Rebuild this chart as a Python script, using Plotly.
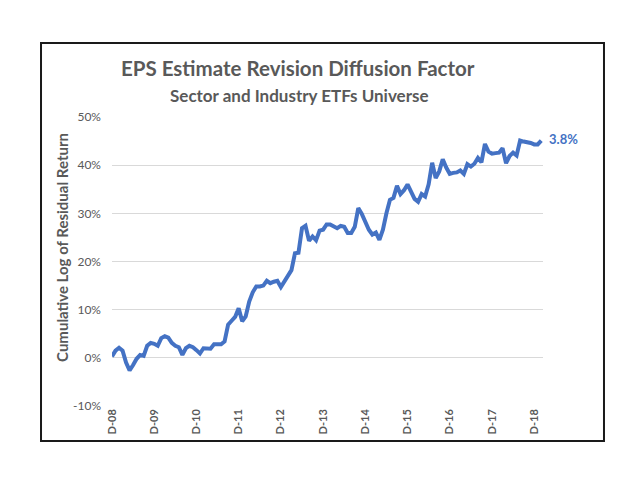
import plotly.graph_objects as go

# Monthly cumulative log residual return (%), Dec-2008 .. Feb-2019
cum_return = [
    0.3, 1.5, 2.1, 1.5, -1.0, -2.6, -1.5, -0.2, 0.6, 0.4, 2.5, 3.1,
    2.9, 2.5, 4.1, 4.5, 4.2, 3.1, 2.5, 2.2, 0.6, 2.0, 2.5, 2.2,
    1.6, 0.9, 2.0, 1.9, 1.9, 2.8, 2.9, 2.8, 3.4, 6.9, 7.7, 8.5,
    10.3, 7.6, 8.6, 11.7, 13.6, 14.8, 14.8, 15.0, 16.0, 15.5, 15.8, 16.0,
    14.7, 15.8, 16.8, 18.2, 21.7, 21.8, 26.9, 27.4, 24.3, 25.2, 24.4, 26.4,
    26.6, 27.7, 27.7, 27.4, 26.9, 27.4, 27.2, 25.9, 25.9, 27.2, 31.1, 29.9,
    28.0, 26.6, 25.6, 26.0, 24.5, 26.6, 30.0, 32.8, 33.2, 35.7, 34.0, 34.8,
    36.0, 34.5, 33.0, 32.4, 34.0, 33.5, 36.0, 40.5, 37.3, 38.7, 41.2, 39.5,
    38.2, 38.4, 38.5, 38.9, 38.2, 40.2, 39.7, 40.3, 41.5, 40.6, 44.4, 42.8,
    42.4, 42.5, 42.6, 43.5, 40.4, 41.9, 42.6, 42.0, 45.1, 44.9, 44.8, 44.6,
    44.3, 44.3, 45.1,
]
month_index = list(range(len(cum_return)))

tick_positions = [0, 12, 24, 36, 48, 60, 72, 84, 96, 108, 120]
tick_labels = ["D-08", "D-09", "D-10", "D-11", "D-12", "D-13",
               "D-14", "D-15", "D-16", "D-17", "D-18"]

y_ticks = [-10, 0, 10, 20, 30, 40, 50]
y_tick_labels = ["-10%", "0%", "10%", "20%", "30%", "40%", "50%"]

end_label = "3.8%"
title_text = "EPS Estimate Revision Diffusion Factor"
subtitle_text = "Sector and Industry ETFs Universe"
y_title = "Cumulative Log of Residual Return"

FONT = "Lato"
GRAY = "#595959"
BLUE = "#4472C4"

fig = go.Figure()
fig.add_trace(go.Scatter(
    x=month_index, y=cum_return, mode="lines",
    line=dict(color=BLUE, width=4, shape="linear"),
    showlegend=False, hoverinfo="skip",
))

fig.update_layout(
    width=640, height=495,
    margin=dict(l=112, r=97, t=117, b=89),
    paper_bgcolor="white", plot_bgcolor="white",
    font=dict(family=FONT, color=GRAY),
    xaxis=dict(
        range=[0, 122.5], tickmode="array", tickvals=tick_positions,
        ticktext=["<b>" + t + "</b>" for t in tick_labels], tickangle=-90,
        showgrid=False, zeroline=False, showline=False, ticks="",
        tickfont=dict(size=11, color=GRAY, family=FONT),
    ),
    yaxis=dict(
        range=[-10, 50], tickmode="array", tickvals=y_ticks, ticktext=y_tick_labels,
        showgrid=True, gridcolor="#D9D9D9", gridwidth=1, zeroline=False,
        showline=False, ticks="", ticklabelstandoff=10,
        tickfont=dict(size=12, color=GRAY, family=FONT),
    ),
)

# outer chart border
fig.add_shape(type="rect", xref="paper", yref="paper",
              x0=-0.1647, x1=1.1415, y0=-0.1211, y1=1.2561,
              line=dict(color="#1a1a1a", width=2), fillcolor="rgba(0,0,0,0)",
              layer="below")

fig.add_annotation(text="<b>" + title_text + "</b>", xref="paper", yref="paper",
                   x=0.432, y=1.168, xanchor="center", yanchor="middle",
                   showarrow=False, font=dict(size=20.5, color=GRAY, family=FONT))
fig.add_annotation(text="<b>" + subtitle_text + "</b>", xref="paper", yref="paper",
                   x=0.436, y=1.074, xanchor="center", yanchor="middle",
                   showarrow=False, font=dict(size=17, color=GRAY, family=FONT))
fig.add_annotation(text="<b>" + y_title + "</b>", xref="paper", yref="paper",
                   x=-0.116, y=0.547, xanchor="center", yanchor="middle",
                   textangle=-90, showarrow=False,
                   font=dict(size=15, color=GRAY, family=FONT))
fig.add_annotation(text="<b>" + end_label + "</b>", x=month_index[-1], y=cum_return[-1],
                   xref="x", yref="y", xanchor="left", yanchor="middle", xshift=6,
                   yshift=2, showarrow=False, font=dict(size=13, color=BLUE, family=FONT))

fig.write_html("out.html", config={"displayModeBar": False},
               post_script="document.body.style.margin='0';")
